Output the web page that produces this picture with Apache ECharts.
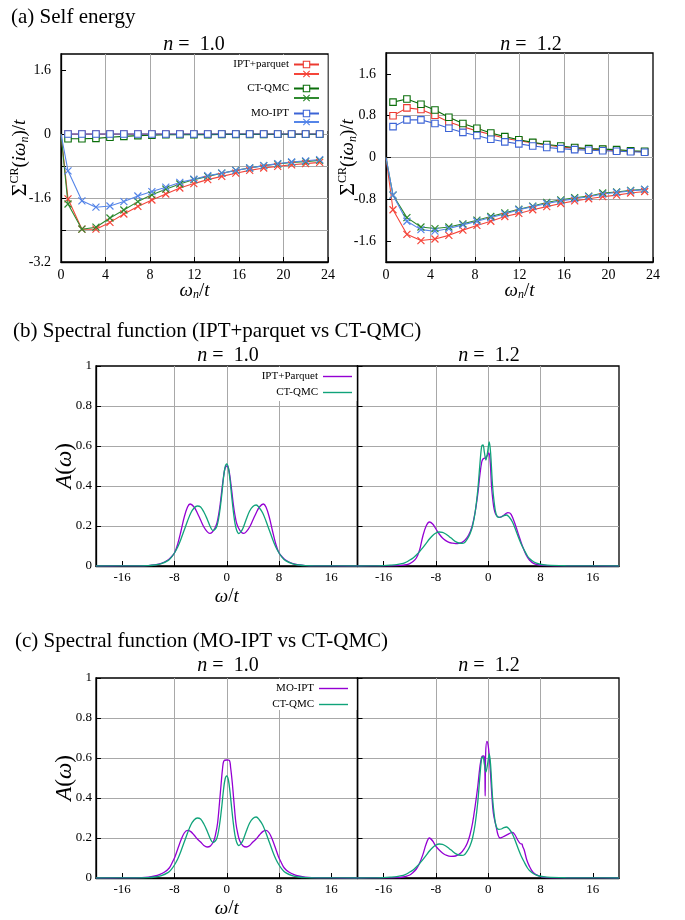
<!DOCTYPE html>
<html>
<head>
<meta charset="utf-8">
<script src="https://cdn.jsdelivr.net/npm/echarts@6/dist/echarts.min.js"></script>
<style>
  html, body { margin: 0; padding: 0; background: #fff; }
  #chart { width: 685px; height: 920px; }
</style>
</head>
<body>
<div id="chart"></div>
<script>
const FONT = '"Liberation Serif", "DejaVu Serif", serif';

// Matsubara frequencies omega_n / t (first entry is omega = 0)
const wn = [0, 0.63, 1.88, 3.14, 4.40, 5.65, 6.91, 8.17, 9.42, 10.68, 11.94, 13.19, 14.45, 15.71, 16.96, 18.22, 19.48, 20.73, 21.99, 23.25];

// (a) self energy, n = 1.0  (Re: squares, Im: crosses)
const iptRe10 = ['-', 0, 0, 0, 0, 0, 0, 0, 0, 0, 0, 0, 0, 0, 0, 0, 0, 0, 0, 0];
const iptIm10 = [0, -1.62, -2.38, -2.38, -2.21, -2.00, -1.81, -1.65, -1.50, -1.35, -1.24, -1.14, -1.06, -0.98, -0.91, -0.85, -0.81, -0.77, -0.74, -0.71];
const qmcRe10 = ['-', -0.12, -0.12, -0.11, -0.08, -0.06, -0.04, -0.03, -0.02, -0.02, -0.015, -0.015, -0.01, -0.01, -0.01, -0.01, -0.005, -0.005, -0.005, -0.005];
const qmcIm10 = [0, -1.75, -2.38, -2.33, -2.10, -1.90, -1.69, -1.52, -1.38, -1.25, -1.14, -1.06, -0.98, -0.91, -0.85, -0.79, -0.75, -0.71, -0.69, -0.66];
const moRe10 = ['-', 0, 0, 0, 0, 0, 0, 0, 0, 0, 0, 0, 0, 0, 0, 0, 0, 0, 0, 0];
const moIm10 = [0, -0.92, -1.67, -1.83, -1.80, -1.69, -1.55, -1.44, -1.33, -1.21, -1.13, -1.04, -0.98, -0.91, -0.85, -0.79, -0.74, -0.70, -0.67, -0.64];

// (a) self energy, n = 1.2
const iptRe12 = ['-', 0.80, 0.95, 0.92, 0.81, 0.68, 0.59, 0.51, 0.44, 0.37, 0.32, 0.28, 0.24, 0.20, 0.18, 0.16, 0.15, 0.13, 0.12, 0.11];
const iptIm12 = [0, -1.00, -1.47, -1.59, -1.56, -1.49, -1.39, -1.30, -1.22, -1.13, -1.07, -1.00, -0.94, -0.88, -0.83, -0.79, -0.75, -0.72, -0.68, -0.65];
const qmcRe12 = ['-', 1.06, 1.12, 1.02, 0.91, 0.77, 0.65, 0.56, 0.47, 0.40, 0.34, 0.29, 0.25, 0.22, 0.19, 0.17, 0.16, 0.15, 0.13, 0.12];
const qmcIm12 = [0, -0.72, -1.15, -1.33, -1.36, -1.33, -1.27, -1.20, -1.13, -1.06, -0.99, -0.93, -0.86, -0.81, -0.77, -0.74, -0.68, -0.66, -0.63, -0.61];
const moRe12 = ['-', 0.59, 0.72, 0.72, 0.65, 0.56, 0.48, 0.42, 0.35, 0.30, 0.26, 0.22, 0.19, 0.17, 0.15, 0.14, 0.13, 0.12, 0.11, 0.10];
const moIm12 = [0, -0.72, -1.22, -1.38, -1.41, -1.36, -1.29, -1.22, -1.15, -1.08, -1.00, -0.94, -0.88, -0.83, -0.79, -0.75, -0.70, -0.67, -0.64, -0.61];

// spectral functions A(omega), pairs [omega/t, A]
const qmcA10 = [[-20, 0], [-16, 0.0003], [-14, 0.0008], [-12, 0.002], [-11, 0.005], [-10, 0.012], [-9, 0.027], [-8.5, 0.042], [-8, 0.065], [-7.5, 0.095], [-7, 0.135], [-6.5, 0.18], [-6, 0.225], [-5.5, 0.265], [-5, 0.29], [-4.5, 0.30], [-4, 0.295], [-3.5, 0.27], [-3, 0.235], [-2.5, 0.195], [-2.1, 0.177], [-1.75, 0.185], [-1.5, 0.2], [-1.25, 0.235], [-1, 0.29], [-0.75, 0.36], [-0.5, 0.44], [-0.25, 0.495], [0, 0.51], [0.25, 0.49], [0.5, 0.43], [0.75, 0.35], [1, 0.275], [1.25, 0.215], [1.5, 0.18], [1.85, 0.162], [2.25, 0.175], [2.5, 0.19], [3, 0.235], [3.5, 0.275], [4, 0.298], [4.5, 0.305], [5, 0.29], [5.5, 0.265], [6, 0.225], [6.5, 0.18], [7, 0.135], [7.5, 0.095], [8, 0.065], [8.5, 0.042], [9, 0.027], [10, 0.012], [11, 0.005], [12, 0.002], [14, 0.0008], [16, 0.0003], [20, 0]];
const iptA10 = [[-20, 0], [-16, 0.0002], [-14, 0.0006], [-12, 0.002], [-11, 0.005], [-10, 0.013], [-9, 0.03], [-8.5, 0.045], [-8, 0.065], [-7.5, 0.11], [-7, 0.175], [-6.5, 0.245], [-6, 0.295], [-5.6, 0.31], [-5, 0.295], [-4.5, 0.265], [-4, 0.23], [-3.5, 0.195], [-3, 0.172], [-2.6, 0.163], [-2.2, 0.17], [-1.8, 0.19], [-1.5, 0.215], [-1.25, 0.255], [-1, 0.31], [-0.75, 0.38], [-0.5, 0.445], [-0.25, 0.49], [0, 0.50], [0.25, 0.49], [0.5, 0.445], [0.75, 0.38], [1, 0.31], [1.25, 0.255], [1.5, 0.215], [1.8, 0.19], [2.2, 0.17], [2.6, 0.163], [3, 0.172], [3.5, 0.195], [4, 0.23], [4.5, 0.265], [5, 0.295], [5.6, 0.31], [6, 0.295], [6.5, 0.245], [7, 0.175], [7.5, 0.11], [8, 0.065], [8.5, 0.045], [9, 0.03], [10, 0.013], [11, 0.005], [12, 0.002], [14, 0.0006], [16, 0.0002], [20, 0]];
const moA10 = [[-20, 0], [-16, 0.0002], [-14, 0.0005], [-12, 0.004], [-11, 0.01], [-10.3, 0.017], [-9.5, 0.03], [-8.8, 0.05], [-8.3, 0.08], [-7.9, 0.108], [-7.5, 0.145], [-7, 0.19], [-6.5, 0.225], [-6, 0.238], [-5.5, 0.232], [-5, 0.215], [-4.5, 0.195], [-4, 0.18], [-3.5, 0.163], [-3, 0.155], [-2.5, 0.16], [-2, 0.185], [-1.7, 0.22], [-1.4, 0.275], [-1.1, 0.38], [-0.85, 0.475], [-0.65, 0.545], [-0.45, 0.585], [0, 0.59], [0.4, 0.588], [0.6, 0.55], [0.85, 0.475], [1.1, 0.38], [1.4, 0.275], [1.7, 0.22], [2, 0.185], [2.5, 0.16], [3, 0.155], [3.5, 0.163], [4, 0.18], [4.5, 0.195], [5, 0.215], [5.5, 0.232], [6, 0.238], [6.5, 0.225], [7, 0.19], [7.5, 0.145], [7.9, 0.108], [8.3, 0.08], [8.8, 0.05], [9.5, 0.03], [10.3, 0.017], [11, 0.01], [12, 0.004], [14, 0.0005], [16, 0.0002], [20, 0]];
const qmcA12 = [[-20, 0], [-17, 0.001], [-16, 0.002], [-15, 0.004], [-14, 0.007], [-13, 0.013], [-12.5, 0.02], [-12, 0.03], [-11.5, 0.04], [-11, 0.055], [-10.5, 0.072], [-10, 0.092], [-9.5, 0.113], [-9, 0.135], [-8.5, 0.153], [-8, 0.165], [-7.5, 0.17], [-7, 0.168], [-6.5, 0.16], [-6, 0.148], [-5.5, 0.135], [-5, 0.122], [-4.5, 0.115], [-4, 0.113], [-3.6, 0.118], [-3.2, 0.135], [-2.8, 0.16], [-2.4, 0.2], [-2, 0.27], [-1.6, 0.38], [-1.3, 0.5], [-1.0, 0.6], [-0.8, 0.605], [-0.6, 0.57], [-0.36, 0.53], [-0.1, 0.57], [0.15, 0.62], [0.35, 0.57], [0.66, 0.40], [0.9, 0.32], [1.2, 0.26], [1.6, 0.243], [2, 0.245], [2.4, 0.252], [2.8, 0.255], [3.2, 0.245], [3.7, 0.22], [4.2, 0.18], [4.6, 0.145], [5, 0.113], [5.5, 0.08], [6, 0.05], [6.3, 0.038], [7, 0.02], [7.8, 0.01], [9, 0.004], [12, 0.001], [16, 0.0003], [20, 0]];
const iptA12 = [[-20, 0], [-16, 0.0005], [-14, 0.002], [-13, 0.004], [-12.5, 0.007], [-12, 0.012], [-11.5, 0.022], [-11, 0.04], [-10.5, 0.08], [-10, 0.15], [-9.5, 0.2], [-9, 0.22], [-8.5, 0.21], [-8, 0.185], [-7.5, 0.16], [-7, 0.14], [-6.5, 0.127], [-6, 0.118], [-5.5, 0.114], [-5, 0.112], [-4.5, 0.113], [-4, 0.118], [-3.5, 0.132], [-3, 0.155], [-2.5, 0.195], [-2, 0.27], [-1.6, 0.36], [-1.3, 0.45], [-1.0, 0.52], [-0.8, 0.535], [-0.5, 0.54], [-0.2, 0.55], [0.1, 0.565], [0.3, 0.52], [0.5, 0.40], [0.7, 0.33], [0.9, 0.285], [1.2, 0.255], [1.7, 0.243], [2.2, 0.25], [2.7, 0.262], [3.0, 0.267], [3.5, 0.258], [4.2, 0.2], [4.7, 0.15], [5.25, 0.097], [5.8, 0.055], [6.3, 0.03], [7, 0.012], [7.8, 0.005], [9, 0.002], [12, 0.0005], [16, 0.0002], [20, 0]];
const moA12 = [[-20, 0], [-16, 0.0005], [-14, 0.002], [-13, 0.005], [-12.6, 0.008], [-12, 0.015], [-11.6, 0.025], [-11, 0.045], [-10.6, 0.067], [-10, 0.117], [-9.5, 0.17], [-9, 0.20], [-8.5, 0.185], [-8, 0.158], [-7.5, 0.14], [-7, 0.125], [-6.5, 0.115], [-5.7, 0.108], [-5, 0.11], [-4.2, 0.125], [-3.6, 0.15], [-3.2, 0.175], [-2.8, 0.215], [-2.4, 0.275], [-2, 0.36], [-1.6, 0.458], [-1.3, 0.55], [-1.0, 0.605], [-0.7, 0.61], [-0.55, 0.59], [-0.47, 0.41], [-0.4, 0.62], [-0.2, 0.683], [0, 0.66], [0.15, 0.61], [0.35, 0.52], [0.56, 0.41], [0.8, 0.32], [1.2, 0.258], [1.5, 0.215], [1.8, 0.2], [2.2, 0.205], [2.7, 0.213], [3.2, 0.222], [3.7, 0.228], [4.1, 0.215], [4.5, 0.19], [4.9, 0.172], [5.15, 0.17], [5.3, 0.155], [5.5, 0.14], [5.9, 0.09], [6.3, 0.058], [6.8, 0.03], [7.3, 0.017], [8.3, 0.004], [10, 0.001], [14, 0.0003], [20, 0]];

// tick positions
const sigmaLabels10 = [-3.2, -1.6, 0, 1.6];
const sigmaGrid10 = [-3.2, -2.4, -1.6, -0.8, 0, 1.6];
const sigmaTicks12 = [-1.6, -0.8, 0, 0.8, 1.6];
const omegaTicks = [-16, -8, 0, 8, 16];

const RED = '#ec3a30', RED_X = '#f5453a';
const GREEN = '#0a6e0a', GREEN_X = '#2f8a2f';
const BLUE = '#3c64d6', BLUE_X = '#5585e8';
const PURPLE = '#9400d3', TEAL = '#10a37a';
const CROSS = 'path://M0,0L10,10M10,0L0,10';
const SQUARE = 'path://M0,0H10V10H0Z';

const chart = echarts.init(document.getElementById('chart'));

const grids = [
    { left: 61, top: 54, width: 267, height: 208 },
    { left: 386, top: 53, width: 267, height: 209 },
    { left: 96, top: 366, width: 261.5, height: 200 },
    { left: 357.5, top: 366, width: 261.5, height: 200 },
    { left: 96, top: 678, width: 261.5, height: 200 },
    { left: 357.5, top: 678, width: 261.5, height: 200 }
].map(g => ({ ...g, show: true, borderColor: '#000', borderWidth: 1.3 }));

const labelFont = { color: '#000', fontFamily: FONT, fontSize: 14 };
const rich = {
    i: { fontFamily: FONT, fontStyle: 'italic', fontSize: 19, color: '#000' },
    r: { fontFamily: FONT, fontSize: 19, color: '#000' },
    s: { fontFamily: FONT, fontSize: 22, color: '#000' },
    sub: { fontFamily: FONT, fontStyle: 'italic', fontSize: 12, color: '#000', verticalAlign: 'bottom', padding: [8, 0, 0, 0] },
    sup: { fontFamily: FONT, fontSize: 12, color: '#000', verticalAlign: 'top', padding: [0, 0, 8, 0] },
    bi: { fontFamily: FONT, fontStyle: 'italic', fontSize: 23, color: '#000' },
    br: { fontFamily: FONT, fontSize: 23, color: '#000' }
};

function axis(grid, extra) {
    return {
        type: 'value',
        gridIndex: grid,
        axisLine: { show: true, onZero: false, lineStyle: { color: '#000', width: 1.3 } },
        axisTick: { show: true, inside: true, length: 5, lineStyle: { color: '#000' } },
        axisLabel: { ...labelFont, margin: 6 },
        splitLine: { show: true, showMinLine: false, showMaxLine: false, lineStyle: { color: '#a8a8a8', width: 1 } },
        nameLocation: 'middle',
        nameMoveOverlap: false,
        nameTextStyle: { rich },
        ...extra
    };
}

const wnName = '{i|ω}{sub|n}{r|/}{i|t}';
const sigmaName = '{s|Σ}{sup|CR}{r|(}{i|iω}{sub|n}{r|)/}{i|t}';

const xAxes = [
    axis(0, { min: 0, max: 24, interval: 4, name: wnName, nameGap: 19 }),
    axis(1, { min: 0, max: 24, interval: 4, name: wnName, nameGap: 19 }),
    ...[2, 3, 4, 5].map(g => axis(g, {
        min: -20, max: 20,
        axisLabel: { ...labelFont, fontSize: 13, margin: 5, customValues: omegaTicks },
        axisTick: { show: true, inside: true, length: 5, lineStyle: { color: '#000' }, customValues: omegaTicks },
        name: (g === 2 || g === 4) ? '{i|ω}{r|/}{i|t}' : '',
        nameGap: 21
    }))
];

const yAxes = [
    axis(0, {
        min: -3.2, max: 2.0,
        axisLabel: { ...labelFont, margin: 10, customValues: sigmaLabels10 },
        axisTick: { show: true, inside: true, length: 5, lineStyle: { color: '#000' }, customValues: sigmaGrid10 },
        name: sigmaName, nameRotate: 90, nameGap: 30
    }),
    axis(1, {
        min: -2, max: 2,
        axisLabel: { ...labelFont, margin: 10, customValues: sigmaTicks12 },
        axisTick: { show: true, inside: true, length: 5, lineStyle: { color: '#000' }, customValues: sigmaTicks12 },
        name: sigmaName, nameRotate: 90, nameGap: 27
    }),
    ...[2, 3, 4, 5].map(g => axis(g, {
        min: 0, max: 1, interval: 0.2,
        axisLabel: { ...labelFont, fontSize: 13, margin: 4, show: g === 2 || g === 4 },
        name: (g === 2 || g === 4) ? '{bi|A}{br|(}{bi|ω}{br|)}' : '',
        nameRotate: 90, nameGap: 20
    }))
];

function pts(ys) {
    return ys.map((y, i) => (i === 0 ? { value: [wn[i], y], symbol: 'none' } : [wn[i], y]));
}

function sigmaSeries(name, ys, grid, color, cross) {
    return {
        type: 'line', name, xAxisIndex: grid, yAxisIndex: grid,
        data: pts(ys),
        symbol: cross ? CROSS : SQUARE,
        symbolSize: cross ? 7 : 6.5,
        showAllSymbol: true,
        lineStyle: { color, width: 1.1 },
        itemStyle: cross
            ? { color: 'rgba(0,0,0,0)', borderColor: color, borderWidth: 1.2 }
            : { color: '#fff', borderColor: color, borderWidth: 1.1 },
        emphasis: { disabled: true },
        z: 3
    };
}

function specSeries(name, data, grid, color) {
    return {
        type: 'line', name, xAxisIndex: grid, yAxisIndex: grid,
        data, symbol: 'none', smooth: 0.35,
        lineStyle: { color, width: 1.3 },
        itemStyle: { color },
        emphasis: { disabled: true },
        z: 3
    };
}

const series = [
    sigmaSeries('IPT+parquet', iptRe10, 0, RED, false),
    sigmaSeries('IPT+parquet Im', iptIm10, 0, RED_X, true),
    sigmaSeries('CT-QMC', qmcRe10, 0, GREEN, false),
    sigmaSeries('CT-QMC Im', qmcIm10, 0, GREEN_X, true),
    sigmaSeries('MO-IPT', moRe10, 0, BLUE, false),
    sigmaSeries('MO-IPT Im', moIm10, 0, BLUE_X, true),
    sigmaSeries('IPT+parquet', iptRe12, 1, RED, false),
    sigmaSeries('IPT+parquet Im', iptIm12, 1, RED_X, true),
    sigmaSeries('CT-QMC', qmcRe12, 1, GREEN, false),
    sigmaSeries('CT-QMC Im', qmcIm12, 1, GREEN_X, true),
    sigmaSeries('MO-IPT', moRe12, 1, BLUE, false),
    sigmaSeries('MO-IPT Im', moIm12, 1, BLUE_X, true),
    specSeries('IPT+Parquet', iptA10, 2, PURPLE),
    specSeries('CT-QMC (b)', qmcA10, 2, TEAL),
    specSeries('IPT+Parquet', iptA12, 3, PURPLE),
    specSeries('CT-QMC (b)', qmcA12, 3, TEAL),
    specSeries('MO-IPT (c)', moA10, 4, PURPLE),
    specSeries('CT-QMC (c)', qmcA10, 4, TEAL),
    specSeries('MO-IPT (c)', moA12, 5, PURPLE),
    specSeries('CT-QMC (c)', qmcA12, 5, TEAL)
];

const legendText = { color: '#000', fontFamily: FONT, fontSize: 11 };
function keyEntry(name, top, right, w, h, shown, icon) {
    const entry = {
        data: [name], top, right, itemWidth: w, itemHeight: h, padding: 0,
        align: 'right', selectedMode: false, itemGap: 0,
        formatter: shown,
        textStyle: legendText
    };
    if (icon) entry.icon = icon;
    else entry.itemStyle = { borderWidth: 1.1 };
    return entry;
}

const legends = [
    keyEntry('IPT+parquet', 59, 365, 25, 8, () => 'IPT+parquet'),
    keyEntry('IPT+parquet Im', 70, 365, 25, 8, () => ''),
    keyEntry('CT-QMC', 83, 365, 25, 8, () => 'CT-QMC'),
    keyEntry('CT-QMC Im', 94, 365, 25, 8, () => ''),
    keyEntry('MO-IPT', 108, 365, 25, 8, () => 'MO-IPT'),
    keyEntry('MO-IPT Im', 118, 365, 25, 8, () => ''),
    keyEntry('IPT+Parquet', 371, 333, 29, 1.4, () => 'IPT+Parquet', 'rect'),
    keyEntry('CT-QMC (b)', 387, 333, 29, 1.4, () => 'CT-QMC', 'rect'),
    keyEntry('MO-IPT (c)', 683, 337, 29, 1.4, () => 'MO-IPT', 'rect'),
    keyEntry('CT-QMC (c)', 699, 337, 29, 1.4, () => 'CT-QMC', 'rect')
];

const titleRich = {
    i: { fontFamily: FONT, fontStyle: 'italic', fontSize: 20, fill: '#000' },
    r: { fontFamily: FONT, fontSize: 20, fill: '#000' }
};
function text(x, y, str, size, align) {
    return {
        type: 'text', x, y, z: 10,
        style: { text: str, fill: '#000', font: size + 'px ' + FONT, textAlign: align || 'left', textVerticalAlign: 'middle', rich: titleRich }
    };
}
function cover(x, y, w, h) {
    return { type: 'rect', shape: { x, y, width: w, height: h }, style: { fill: '#fff' }, z: 1, silent: true };
}

const graphics = [
    text(11, 17, '(a) Self energy', 21),
    text(194, 45, '{i|n} {r|=  1.0}', 20, 'center'),
    text(531, 45, '{i|n} {r|=  1.2}', 20, 'center'),
    text(13, 331, '(b) Spectral function (IPT+parquet vs CT-QMC)', 21),
    text(228, 356, '{i|n} {r|=  1.0}', 20, 'center'),
    text(489, 356, '{i|n} {r|=  1.2}', 20, 'center'),
    text(15, 641, '(c) Spectral function (MO-IPT vs CT-QMC)', 21),
    text(228, 666, '{i|n} {r|=  1.0}', 20, 'center'),
    text(489, 666, '{i|n} {r|=  1.2}', 20, 'center'),
    cover(222, 55, 105.5, 76),
    cover(240, 367, 116.5, 34),
    cover(255, 679, 101.5, 31)
];

chart.setOption({
    animation: false,
    backgroundColor: '#fff',
    grid: grids,
    xAxis: xAxes,
    yAxis: yAxes,
    legend: legends,
    graphic: graphics,
    series
});
window.addEventListener('resize', () => chart.resize());
</script>
</body>
</html>
